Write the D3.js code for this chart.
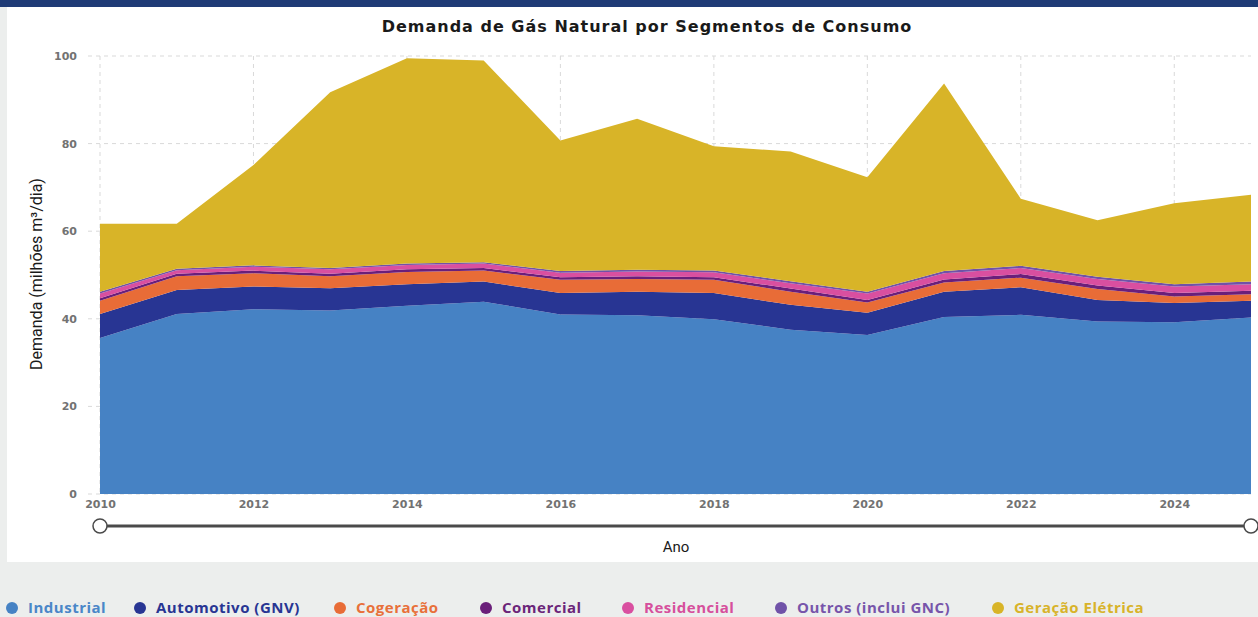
<!DOCTYPE html>
<html>
<head>
<meta charset="utf-8">
<script src="https://cdn.jsdelivr.net/npm/d3@7"></script>
<style>
  html, body { margin: 0; padding: 0; background: #eceeed; }
  svg { display: block; }
</style>
</head>
<body>
<svg id="chart" width="1258" height="617"></svg>
<script>
// dados (milhões m³/dia)
const anos = [2010, 2011, 2012, 2013, 2014, 2015, 2016, 2017, 2018, 2019, 2020, 2021, 2022, 2023, 2024, 2025]
const industrial = [35.6, 41.1, 42.2, 41.9, 43.0, 43.9, 41.0, 40.8, 39.9, 37.5, 36.3, 40.4, 40.9, 39.4, 39.2, 40.3]
const automotivo = [5.5, 5.5, 5.2, 5.1, 4.9, 4.6, 4.9, 5.4, 6.0, 5.7, 5.1, 5.8, 6.3, 4.9, 4.4, 3.8]
const cogeracao = [3.0, 3.1, 3.0, 2.7, 2.8, 2.5, 3.0, 2.9, 3.0, 3.0, 2.3, 2.1, 2.2, 2.5, 1.5, 1.5]
const comercial = [0.6, 0.6, 0.6, 0.6, 0.6, 0.6, 0.6, 0.6, 0.6, 0.7, 0.6, 0.7, 0.8, 0.8, 0.8, 0.8]
const residencial = [1.1, 0.8, 0.9, 1.0, 1.0, 1.0, 1.0, 1.1, 1.1, 1.2, 1.5, 1.4, 1.4, 1.5, 1.5, 1.5]
const outros = [0.4, 0.3, 0.3, 0.3, 0.3, 0.3, 0.4, 0.4, 0.4, 0.5, 0.4, 0.5, 0.5, 0.5, 0.5, 0.6]
const geracao = [15.5, 10.3, 22.9, 40.1, 46.9, 46.1, 29.8, 34.5, 28.4, 29.6, 26.1, 42.8, 15.3, 12.9, 18.5, 19.8]

const yTicks = [0, 20, 40, 60, 80, 100]
const xTicks = [2010, 2012, 2014, 2016, 2018, 2020, 2022, 2024]

const series = [
    {key: "industrial", label: "Industrial", values: industrial, color: "#4682c4", text: "#4a86c8"},
    {key: "automotivo", label: "Automotivo (GNV)", values: automotivo, color: "#283593", text: "#283593"},
    {key: "cogeracao", label: "Cogeração", values: cogeracao, color: "#e86c37", text: "#e8703a"},
    {key: "comercial", label: "Comercial", values: comercial, color: "#6a1f7a", text: "#6b2579"},
    {key: "residencial", label: "Residencial", values: residencial, color: "#d94fa0", text: "#d64f9c"},
    {key: "outros", label: "Outros (inclui GNC)", values: outros, color: "#7052a8", text: "#7755aa"},
    {key: "geracao", label: "Geração Elétrica", values: geracao, color: "#d8b428", text: "#d8b32a"}
]

const rows = anos.map((ano, i) => {
    const row = {ano: ano}
    series.forEach(s => { row[s.key] = s.values[i] })
    return row
})

const svg = d3.select("#chart")

// fundo
svg.append("rect").attr("x", 0).attr("y", 0).attr("width", 1258).attr("height", 7).attr("fill", "#1f3b76")
svg.append("rect").attr("x", 7).attr("y", 7).attr("width", 1251).attr("height", 555).attr("fill", "#ffffff")

const plotLeft = 100, plotRight = 1251, plotTop = 56, plotBottom = 494

const x = d3.scaleLinear().domain([2010, 2025]).range([plotLeft, plotRight])
const y = d3.scaleLinear().domain([0, 100]).range([plotBottom, plotTop])

// grade
const grid = svg.append("g")
grid.selectAll("line.h")
    .data(yTicks)
    .enter()
    .append("line")
    .attr("x1", 88)
    .attr("x2", plotRight)
    .attr("y1", d => y(d))
    .attr("y2", d => y(d))
    .attr("stroke", "#d9d9d9")
    .attr("stroke-dasharray", "4,4")
grid.selectAll("line.v")
    .data(xTicks)
    .enter()
    .append("line")
    .attr("x1", d => x(d))
    .attr("x2", d => x(d))
    .attr("y1", plotTop)
    .attr("y2", plotBottom)
    .attr("stroke", "#d9d9d9")
    .attr("stroke-dasharray", "4,4")

// áreas empilhadas
const stack = d3.stack().keys(series.map(s => s.key))
const layers = stack(rows)
const area = d3.area()
    .x(d => x(d.data.ano))
    .y0(d => y(d[0]))
    .y1(d => y(d[1]))

svg.append("g")
    .selectAll("path")
    .data(layers)
    .enter()
    .append("path")
    .attr("d", area)
    .attr("fill", (d, i) => series[i].color)

// eixo y
const yAxis = svg.append("g")
    .attr("transform", `translate(${plotLeft - 23},0)`)
    .call(d3.axisLeft(y).tickValues(yTicks).tickSize(0).tickPadding(0))
yAxis.select(".domain").remove()
yAxis.selectAll("text")
    .attr("text-anchor", "end")
    .attr("font-family", "DejaVu Sans")
    .attr("font-weight", "bold")
    .attr("font-size", 11)
    .attr("fill", "#727272")

// eixo x
const xAxis = svg.append("g")
    .attr("transform", `translate(0,${plotBottom + 6})`)
    .call(d3.axisBottom(x).tickValues(xTicks).tickFormat(d3.format("d")).tickSize(0).tickPadding(0))
xAxis.select(".domain").remove()
xAxis.selectAll("text")
    .attr("font-family", "DejaVu Sans")
    .attr("font-weight", "bold")
    .attr("font-size", 11)
    .attr("fill", "#727272")

// títulos
svg.append("text")
    .text("Demanda de Gás Natural por Segmentos de Consumo")
    .attr("x", 647)
    .attr("y", 32)
    .attr("text-anchor", "middle")
    .attr("font-family", "DejaVu Sans")
    .attr("font-weight", 600)
    .attr("font-size", 16)
    .attr("letter-spacing", 1)
    .attr("fill", "#1a1a1a")

svg.append("text")
    .text("Demanda (milhões m³/dia)")
    .attr("transform", "translate(42,274) rotate(-90)")
    .attr("text-anchor", "middle")
    .attr("font-family", "Roboto")
    .attr("font-size", 16)
    .attr("fill", "#1a1a1a")

svg.append("text")
    .text("Ano")
    .attr("x", 676)
    .attr("y", 552)
    .attr("text-anchor", "middle")
    .attr("font-family", "Roboto")
    .attr("font-size", 15)
    .attr("fill", "#1a1a1a")

// controle deslizante
svg.append("line")
    .attr("x1", x(2010))
    .attr("x2", x(2025))
    .attr("y1", 526)
    .attr("y2", 526)
    .attr("stroke", "#4a4a4a")
    .attr("stroke-width", 3)
svg.selectAll("circle.handle")
    .data([2010, 2025])
    .enter()
    .append("circle")
    .attr("cx", d => x(d))
    .attr("cy", 526)
    .attr("r", 7)
    .attr("fill", "#ffffff")
    .attr("stroke", "#4a4a4a")
    .attr("stroke-width", 1.5)

// legenda
const legendX = [12, 140, 340, 486, 628, 781, 998]
const legend = svg.append("g")
    .selectAll("g")
    .data(series)
    .enter()
    .append("g")
    .attr("transform", (d, i) => `translate(${legendX[i]},608)`)
legend.append("circle")
    .attr("r", 6)
    .attr("fill", d => d.color)
legend.append("text")
    .text(d => d.label)
    .attr("x", 16)
    .attr("y", 5)
    .attr("font-family", "Open Sans")
    .attr("font-weight", "bold")
    .attr("font-size", 15)
    .attr("letter-spacing", 0.5)
    .attr("fill", d => d.text)
</script>
</body>
</html>
